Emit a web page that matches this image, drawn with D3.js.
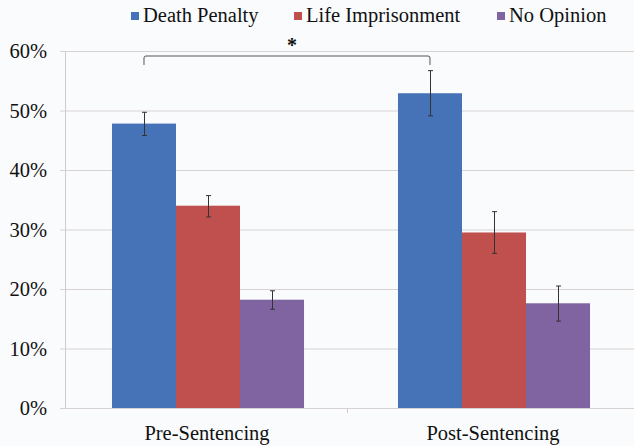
<!DOCTYPE html>
<html><head><meta charset="utf-8">
<script src="https://cdn.jsdelivr.net/npm/d3@7"></script>
<style>body{margin:0;background:#fafbfd;}svg{display:block;}</style>
</head><body>
<script>
const categories = ["Pre-Sentencing", "Post-Sentencing"];
const seriesNames = ["Death Penalty", "Life Imprisonment", "No Opinion"];
const colors = ["#4672B8", "#C0504D", "#8064A2"];
const deathPenalty = [47.8, 52.9];
const lifeImprisonment = [34.0, 29.5];
const noOpinion = [18.2, 17.6];
const errLow = [[45.8, 49.1], [32.1, 26.0], [16.6, 14.6]];
const errHigh = [[49.7, 56.7], [35.7, 33.0], [19.7, 20.5]];
const yTicks = [0, 10, 20, 30, 40, 50, 60];
const values = [deathPenalty, lifeImprisonment, noOpinion];

const W = 634, H = 446;
const FONT = '"Liberation Serif"';
const svg = d3.select("body").append("svg").attr("width", W).attr("height", H);
svg.append("rect").attr("width", W).attr("height", H).attr("fill", "#fafbfd");

const y = d3.scaleLinear().domain([0, 60]).range([408, 51]);
const x0 = d3.scaleBand().domain(categories).range([65, 637]).paddingInner(0).paddingOuter(0);
const x1 = d3.scaleBand().domain(seriesNames).range([0, x0.bandwidth()]).paddingInner(0).paddingOuter(0.734);

// gridlines
svg.append("g").selectAll("line").data(yTicks).join("line")
  .attr("x1", 60).attr("x2", W).attr("y1", d => y(d) + 0.5).attr("y2", d => y(d) + 0.5)
  .attr("stroke", "#d8d2d2").attr("stroke-width", 1);

// y axis line
svg.append("line").attr("x1", 65.5).attr("x2", 65.5).attr("y1", y(60)).attr("y2", y(0))
  .attr("stroke", "#d0cccc");
// x mid tick
svg.append("line").attr("x1", x0("Post-Sentencing") - 3.5).attr("x2", x0("Post-Sentencing") - 3.5)
  .attr("y1", y(0)).attr("y2", y(0) + 5).attr("stroke", "#d0cccc");

// y tick labels
svg.append("g").selectAll("text").data(yTicks).join("text")
  .attr("x", 47).attr("y", d => y(d)).attr("dy", "0.35em").attr("text-anchor", "end")
  .style("font-family", FONT).attr("font-size", 20.5).attr("fill", "#111")
  .text(d => d + "%");

// bars
const g = svg.append("g");
seriesNames.forEach((s, si) => {
  categories.forEach((c, ci) => {
    const bx = x0(c) + x1(s);
    g.append("rect").attr("x", bx).attr("y", y(values[si][ci]))
      .attr("width", x1.bandwidth()).attr("height", y(0) - y(values[si][ci]))
      .attr("fill", colors[si]);
    const cx = Math.round(bx + x1.bandwidth() / 2) + 0.5;
    const eg = g.append("g").attr("stroke", "#333").attr("stroke-width", 1);
    eg.append("line").attr("x1", cx).attr("x2", cx).attr("y1", y(errHigh[si][ci])).attr("y2", y(errLow[si][ci]));
    eg.append("line").attr("x1", cx - 2.5).attr("x2", cx + 2.5).attr("y1", y(errHigh[si][ci])).attr("y2", y(errHigh[si][ci]));
    eg.append("line").attr("x1", cx - 2.5).attr("x2", cx + 2.5).attr("y1", y(errLow[si][ci])).attr("y2", y(errLow[si][ci]));
  });
});

// category labels
svg.append("g").selectAll("text").data(categories).join("text")
  .attr("x", d => x0(d) + x0.bandwidth() / 2 - 1).attr("y", 440).attr("text-anchor", "middle")
  .style("font-family", FONT).attr("font-size", 20.5).attr("fill", "#111")
  .text(d => d);

// significance bracket
const bl = x0("Pre-Sentencing") + x1("Death Penalty") + x1.bandwidth() / 2;
const br = x0("Post-Sentencing") + x1("Death Penalty") + x1.bandwidth() / 2;
svg.append("path")
  .attr("d", `M${bl},65 L${bl},58 Q${bl},56 ${bl + 2},56 L${br - 2},56 Q${br},56 ${br},58 L${br},65`)
  .attr("fill", "none").attr("stroke", "#555").attr("stroke-width", 1);
svg.append("text").attr("x", (bl + br) / 2 + 5).attr("y", 52).attr("text-anchor", "middle")
  .style("font-family", FONT).attr("font-size", 20).attr("font-weight", "bold").attr("fill", "#111").text("*");

// legend
const legendX = [131, 294, 497];
const lg = svg.append("g");
seriesNames.forEach((s, i) => {
  lg.append("rect").attr("x", legendX[i]).attr("y", 12).attr("width", 8).attr("height", 8).attr("fill", colors[i]);
  lg.append("text").attr("x", legendX[i] + 12).attr("y", 22)
    .style("font-family", FONT).attr("font-size", 20.5).attr("fill", "#111").text(s);
});
</script>
</body></html>
